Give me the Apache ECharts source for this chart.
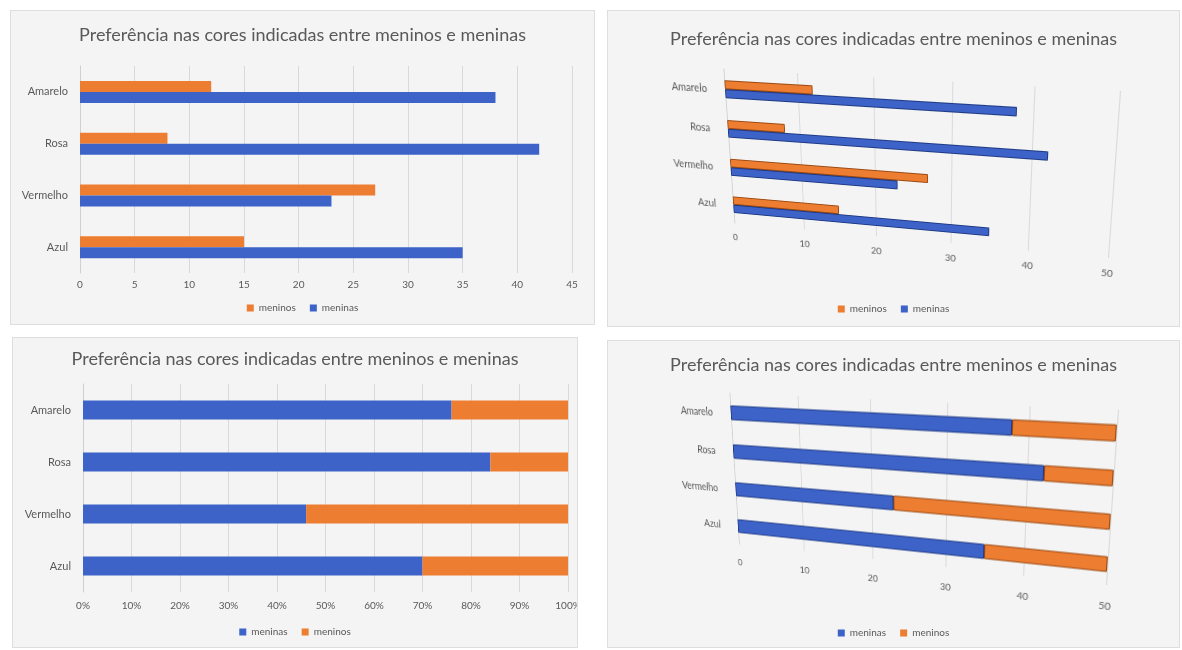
<!DOCTYPE html>
<html lang="pt">
<head>
    <meta charset="UTF-8">
    <title>Preferência nas cores</title>
    <script src="https://cdn.jsdelivr.net/npm/echarts@6/dist/echarts.min.js"></script>
    <style>
        body{margin:0;background:#fff;}
        #box{position:relative;width:1182px;height:650px;overflow:hidden;}
        .painel{position:absolute;background:#f4f4f4;border:1px solid #dedede;box-sizing:border-box;}
        .plano{position:absolute;left:0;top:0;width:500px;height:200px;transform-origin:0 0;z-index:2;}
    </style>
</head>
<body>
<div id="box">
    <div id="c1" class="painel" style="left:10px;top:10px;width:585px;height:315px;"></div>
    <div id="c2" class="painel" style="left:607px;top:10px;width:573px;height:317px;"></div>
    <div id="c3" class="painel" style="left:12px;top:337px;width:566px;height:311px;"></div>
    <div id="c4" class="painel" style="left:607px;top:340px;width:573px;height:308px;"></div>
    <div id="p2" class="plano"></div>
    <div id="p4" class="plano"></div>
</div>
<script>
    // dados ------------------------------
    var cores = ['Azul', 'Vermelho', 'Rosa', 'Amarelo'];
    var meninos = [15, 27, 8, 12];
    var meninas = [35, 23, 42, 38];
    var titulo = 'Preferência nas cores indicadas entre meninos e meninas';

    var laranja = '#ed7d31';
    var azul = '#3d63c9';
    var fonte = 'Lato, "Liberation Sans", sans-serif';
    var cinza = '#595959';

    // percentuais para o grafico 100% empilhado
    function pct(a, b) {
        return a.map(function (v, i) { return +(v / (v + b[i]) * 100).toFixed(2); });
    }

    function tituloOpt(top) {
        return {
            text: titulo, left: 'center', top: top,
            textStyle: {color: cinza, fontSize: 18, fontWeight: 'normal', fontFamily: fonte}
        };
    }
    function legendaOpt(nomes, bottom) {
        return {
            data: nomes, bottom: bottom, left: 'center', icon: 'rect',
            itemWidth: 7, itemHeight: 7, itemGap: 14,
            textStyle: {color: cinza, fontSize: 10, fontFamily: fonte}
        };
    }
    function eixoValor(max, intervalo, fmt, margem) {
        return {
            type: 'value', min: 0, max: max, interval: intervalo,
            axisLine: {show: false}, axisTick: {show: false},
            splitLine: {show: true, lineStyle: {color: '#d9d9d9', width: 1}},
            axisLabel: {color: cinza, fontSize: 10, fontFamily: fonte, margin: margem, formatter: fmt}
        };
    }
    function eixoCat(margem) {
        return {
            type: 'category', data: cores,
            axisLine: {show: true, lineStyle: {color: '#d0d0d0'}}, axisTick: {show: false},
            axisLabel: {color: cinza, fontSize: 11, fontFamily: fonte, margin: margem}
        };
    }

    //bar-c1--------------------------
    function grafico1() {
        var c1 = echarts.init(document.getElementById('c1'));
        c1.setOption({
            animation: false,
            title: tituloOpt(10),
            legend: legendaOpt(['meninos', 'meninas'], 6),
            grid: {left: 69, top: 55, width: 492, height: 207, outerBoundsMode: 'none'},
            xAxis: eixoValor(45, 5, '{value}', 7),
            yAxis: eixoCat(12),
            series: [
                {name: 'meninos', type: 'bar', data: meninos, barWidth: 11, barGap: '0%', itemStyle: {color: laranja}},
                {name: 'meninas', type: 'bar', data: meninas, barWidth: 11, itemStyle: {color: azul}}
            ]
        });
    }
    grafico1();

    //bar-c3 100%--------------------------
    function grafico3() {
        var c3 = echarts.init(document.getElementById('c3'));
        c3.setOption({
            animation: false,
            title: tituloOpt(7),
            legend: legendaOpt(['meninas', 'meninos'], 5),
            grid: {left: 70, top: 46, width: 485, height: 208, outerBoundsMode: 'none'},
            xAxis: eixoValor(100, 10, '{value}%', 9),
            yAxis: eixoCat(12),
            series: [
                {name: 'meninas', type: 'bar', stack: 't', data: pct(meninas, meninos), barWidth: 19, itemStyle: {color: azul}},
                {name: 'meninos', type: 'bar', stack: 't', data: pct(meninos, meninas), barWidth: 19, itemStyle: {color: laranja}}
            ]
        });
    }
    grafico3();

    // paineis "3D": titulo e legenda por fora, plano em perspectiva por cima
    function moldura(id, nomes, topo, baixo) {
        var ch = echarts.init(document.getElementById(id));
        ch.setOption({
            animation: false,
            title: tituloOpt(topo),
            legend: legendaOpt(nomes, baixo),
            grid: {left: -10, top: -10, width: 1, height: 1},
            xAxis: {show: false, type: 'value'},
            yAxis: {show: false, type: 'category'},
            series: nomes.map(function (n) {
                return {name: n, type: 'bar', data: [], itemStyle: {color: n === 'meninos' ? laranja : azul}};
            })
        });
    }

    function homografia(src, dst) {
        var A = [], b = [];
        for (var i = 0; i < 4; i++) {
            var x = src[i][0], y = src[i][1], u = dst[i][0], v = dst[i][1];
            A.push([x, y, 1, 0, 0, 0, -u * x, -u * y]); b.push(u);
            A.push([0, 0, 0, x, y, 1, -v * x, -v * y]); b.push(v);
        }
        for (var c = 0; c < 8; c++) {
            var p = c;
            for (var r = c + 1; r < 8; r++) if (Math.abs(A[r][c]) > Math.abs(A[p][c])) p = r;
            var t = A[c]; A[c] = A[p]; A[p] = t;
            t = b[c]; b[c] = b[p]; b[p] = t;
            for (r = 0; r < 8; r++) {
                if (r === c) continue;
                var f = A[r][c] / A[c][c];
                for (var k = c; k < 8; k++) A[r][k] -= f * A[c][k];
                b[r] -= f * b[c];
            }
        }
        var h = b.map(function (v, i) { return v / A[i][i]; });
        return 'matrix3d(' + [h[0], h[3], 0, h[6], h[1], h[4], 0, h[7], 0, 0, 1, 0, h[2], h[5], 0, 1].join(',') + ')';
    }

    var gradePlano = {left: 90, top: 10, width: 400, height: 160};
    var cantos = [[90, 10], [490, 10], [490, 170], [90, 170]];

    function plano(id, destino, series, margemX, margemY) {
        var el = document.getElementById(id);
        el.style.transform = homografia(cantos, destino);
        var ch = echarts.init(el);
        var grid = Object.assign({outerBoundsMode: 'none'}, gradePlano);
        ch.setOption({
            animation: false,
            grid: grid,
            xAxis: eixoValor(50, 10, '{value}', margemX),
            yAxis: eixoCat(margemY),
            series: series
        });
    }

    //bar-c2 3D agrupado--------------------------
    moldura('c2', ['meninos', 'meninas'], 14, 7);
    plano('p2', [[723.5, 69], [1120, 91], [1108, 258], [734.5, 223]], [
        {name: 'meninos', type: 'bar', data: meninos, barWidth: 9, barGap: '0%',
            itemStyle: {color: laranja, borderColor: '#9c4a12', borderWidth: 1}},
        {name: 'meninas', type: 'bar', data: meninas, barWidth: 9,
            itemStyle: {color: azul, borderColor: '#1f3a85', borderWidth: 1}}
    ], 11, 20);

    //bar-c4 3D empilhado--------------------------
    moldura('c4', ['meninas', 'meninos'], 10, 4);
    plano('p4', [[729.5, 393], [1118, 410], [1106, 585], [739, 544]], [
        {name: 'meninas', type: 'bar', stack: 't', data: meninas, barWidth: 15,
            itemStyle: {color: azul, borderColor: '#1f3a85', borderWidth: 1}},
        {name: 'meninos', type: 'bar', stack: 't', data: meninos, barWidth: 15,
            itemStyle: {color: laranja, borderColor: '#9c4a12', borderWidth: 1}}
    ], 16, 22);
</script>
</body>
</html>
